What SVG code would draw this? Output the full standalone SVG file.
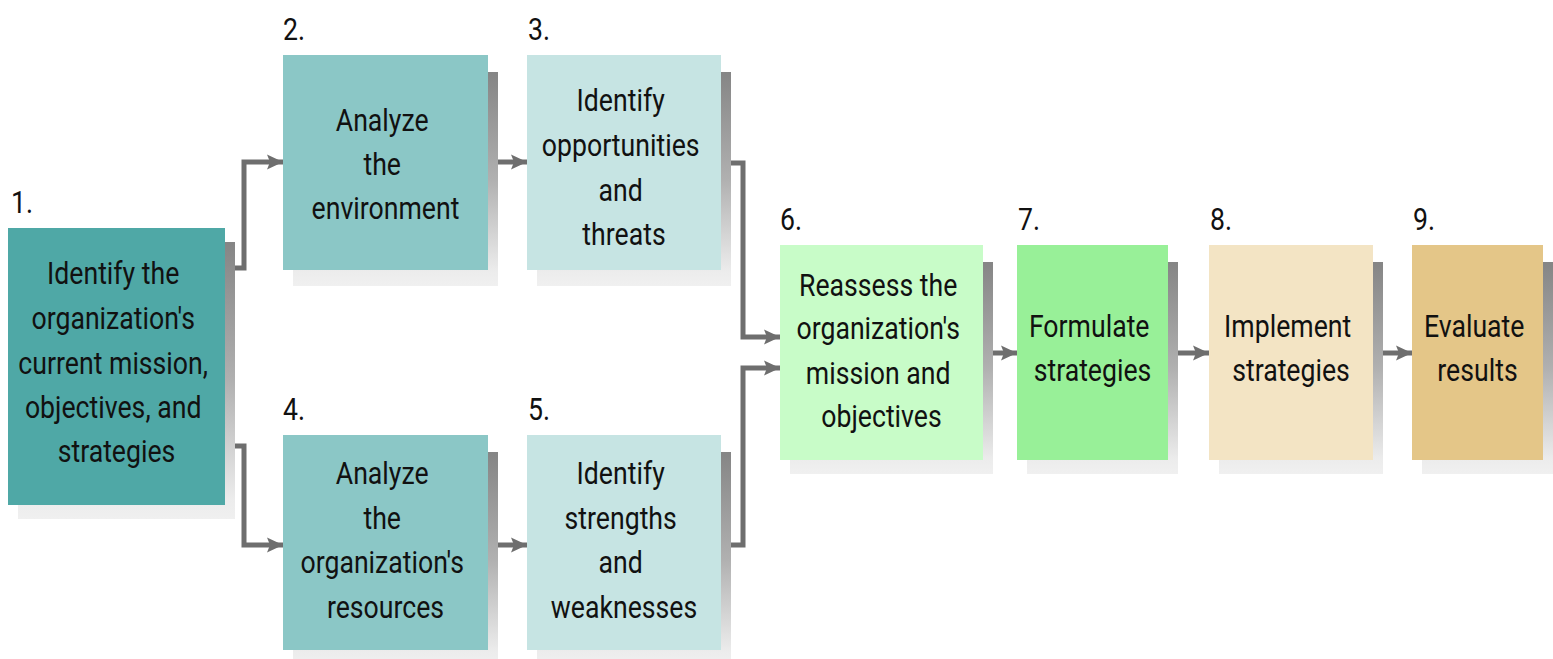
<svg xmlns="http://www.w3.org/2000/svg" width="1553" height="659" viewBox="0 0 1553 659">
<style>
.t{font-family:Roboto,"Liberation Sans",sans-serif;font-size:31px;fill:#111;text-anchor:middle}
.n{font-family:Roboto,"Liberation Sans",sans-serif;font-size:31px;fill:#111}
.sh{fill:url(#sg)}
.c{fill:none;stroke:#6e6e6e;stroke-width:5;marker-end:url(#ah)}
</style>
<defs>
<linearGradient id="sg" x1="0" y1="0" x2="0" y2="1">
<stop offset="0" stop-color="#858585"/>
<stop offset="0.5" stop-color="#b0b0b0"/>
<stop offset="0.93" stop-color="#ececec"/>
<stop offset="1" stop-color="#f0f0f0"/>
</linearGradient>
<marker id="ah" viewBox="0 0 16 16" refX="16" refY="8" markerWidth="16" markerHeight="16" markerUnits="userSpaceOnUse" orient="auto">
<path d="M0,0.5 L16,8 L0,15.5 L3,8 z" fill="#6e6e6e"/>
</marker>
</defs>
<rect width="1553" height="659" fill="#fff"/>

<g id="connectors">
<path class="c" d="M225,268 H244 V162 H283"/>
<path class="c" d="M225,446 H244 V545 H283"/>
<path class="c" d="M488,162 H527"/>
<path class="c" d="M488,545 H527"/>
<path class="c" d="M721,163 H743 V337 H780"/>
<path class="c" d="M721,545 H743 V368 H780"/>
<path class="c" d="M983,353 H1017"/>
<path class="c" d="M1168,353 H1209"/>
<path class="c" d="M1373,353 H1412"/>
</g>

<g id="n1">
<rect class="sh" x="18" y="242" width="217" height="277"/>
<rect x="8" y="228" width="217" height="277" fill="#4fa8a6"/>
<text class="n" transform="translate(11 0) scale(0.86 1)" x="0" y="213">1.</text>
<text class="t" transform="translate(116.5 0) scale(0.86 1)">
<tspan x="0" y="284">Identify the</tspan>
<tspan x="0" y="329">organization's</tspan>
<tspan x="0" y="374">current mission,</tspan>
<tspan x="0" y="418">objectives, and</tspan>
<tspan x="0" y="462">strategies</tspan>
</text>
</g>

<g id="n2">
<rect class="sh" x="293" y="72" width="205" height="214"/>
<rect x="283" y="55" width="205" height="215" fill="#8bc7c6"/>
<text class="n" transform="translate(283 0) scale(0.86 1)" x="0" y="40">2.</text>
<text class="t" transform="translate(385.5 0) scale(0.86 1)">
<tspan x="0" y="131">Analyze</tspan>
<tspan x="0" y="175">the</tspan>
<tspan x="0" y="219">environment</tspan>
</text>
</g>

<g id="n3">
<rect class="sh" x="537" y="72" width="194" height="214"/>
<rect x="527" y="55" width="194" height="215" fill="#c6e4e3"/>
<text class="n" transform="translate(528 0) scale(0.86 1)" x="0" y="40">3.</text>
<text class="t" transform="translate(624 0) scale(0.86 1)">
<tspan x="0" y="111">Identify</tspan>
<tspan x="0" y="156">opportunities</tspan>
<tspan x="0" y="201">and</tspan>
<tspan x="0" y="245">threats</tspan>
</text>
</g>

<g id="n4">
<rect class="sh" x="293" y="452" width="205" height="214"/>
<rect x="283" y="435" width="205" height="215" fill="#8bc7c6"/>
<text class="n" transform="translate(283 0) scale(0.86 1)" x="0" y="420">4.</text>
<text class="t" transform="translate(385.5 0) scale(0.86 1)">
<tspan x="0" y="484">Analyze</tspan>
<tspan x="0" y="529">the</tspan>
<tspan x="0" y="573">organization's</tspan>
<tspan x="0" y="618">resources</tspan>
</text>
</g>

<g id="n5">
<rect class="sh" x="537" y="452" width="194" height="214"/>
<rect x="527" y="435" width="194" height="215" fill="#c6e4e3"/>
<text class="n" transform="translate(528 0) scale(0.86 1)" x="0" y="420">5.</text>
<text class="t" transform="translate(624 0) scale(0.86 1)">
<tspan x="0" y="484">Identify</tspan>
<tspan x="0" y="529">strengths</tspan>
<tspan x="0" y="573">and</tspan>
<tspan x="0" y="618">weaknesses</tspan>
</text>
</g>

<g id="n6">
<rect class="sh" x="790" y="262" width="203" height="212"/>
<rect x="780" y="245" width="203" height="215" fill="#c8fcc8"/>
<text class="n" transform="translate(780 0) scale(0.86 1)" x="0" y="230">6.</text>
<text class="t" transform="translate(881.5 0) scale(0.86 1)">
<tspan x="0" y="296">Reassess the</tspan>
<tspan x="0" y="339">organization's</tspan>
<tspan x="0" y="384">mission and</tspan>
<tspan x="0" y="427">objectives</tspan>
</text>
</g>

<g id="n7">
<rect class="sh" x="1027" y="262" width="151" height="212"/>
<rect x="1017" y="245" width="151" height="215" fill="#98f098"/>
<text class="n" transform="translate(1018 0) scale(0.86 1)" x="0" y="230">7.</text>
<text class="t" transform="translate(1092.5 0) scale(0.86 1)">
<tspan x="0" y="337">Formulate</tspan>
<tspan x="0" y="381">strategies</tspan>
</text>
</g>

<g id="n8">
<rect class="sh" x="1219" y="262" width="164" height="212"/>
<rect x="1209" y="245" width="164" height="215" fill="#f3e4c4"/>
<text class="n" transform="translate(1210 0) scale(0.86 1)" x="0" y="230">8.</text>
<text class="t" transform="translate(1291 0) scale(0.86 1)">
<tspan x="0" y="337">Implement</tspan>
<tspan x="0" y="381">strategies</tspan>
</text>
</g>

<g id="n9">
<rect class="sh" x="1422" y="262" width="131" height="212"/>
<rect x="1412" y="245" width="131" height="215" fill="#e4c688"/>
<text class="n" transform="translate(1413 0) scale(0.86 1)" x="0" y="230">9.</text>
<text class="t" transform="translate(1477.5 0) scale(0.86 1)">
<tspan x="0" y="337">Evaluate</tspan>
<tspan x="0" y="381">results</tspan>
</text>
</g>
</svg>
